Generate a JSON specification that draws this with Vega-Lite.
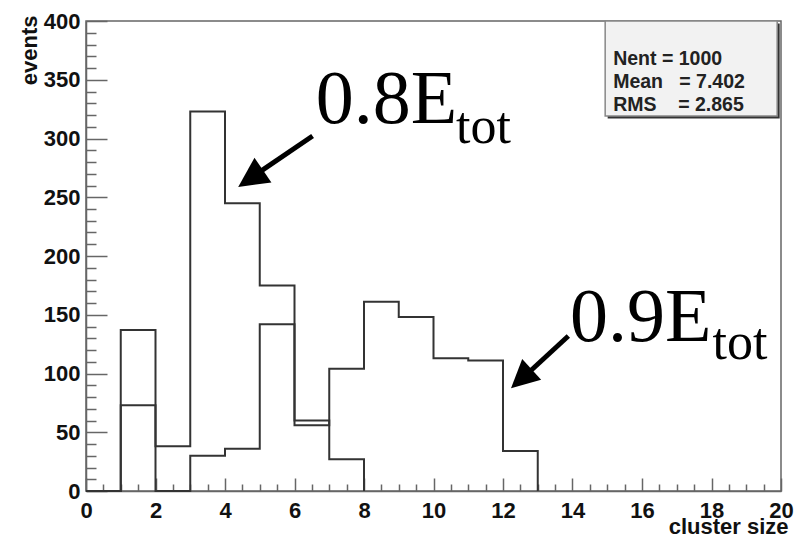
{
  "$schema": "https://vega.github.io/schema/vega-lite/v6.json",
  "width": 695,
  "height": 470,
  "autosize": {"type": "none"},
  "padding": {"left": 86, "top": 21, "right": 21, "bottom": 46},
  "background": "white",
  "config": {
    "view": {"stroke": "#666", "strokeWidth": 1.5},
    "axis": {
      "domainColor": "#666", "domainWidth": 1.5,
      "tickColor": "#666", "tickWidth": 1.5,
      "grid": false,
      "labelFont": "Liberation Sans", "labelFontWeight": "bold", "labelFontSize": 22, "labelColor": "#111",
      "titleFont": "Liberation Sans", "titleFontWeight": "bold", "titleFontSize": 22, "titleColor": "#111",
      "labelFlush": false, "labelOverlap": false
    }
  },
  "layer": [
    {
      "data": {"values": [
        {"series": "0.8Etot", "bin": 0, "count": 0},
        {"series": "0.8Etot", "bin": 1, "count": 137},
        {"series": "0.8Etot", "bin": 2, "count": 38},
        {"series": "0.8Etot", "bin": 3, "count": 323},
        {"series": "0.8Etot", "bin": 4, "count": 245},
        {"series": "0.8Etot", "bin": 5, "count": 175},
        {"series": "0.8Etot", "bin": 6, "count": 60},
        {"series": "0.8Etot", "bin": 7, "count": 27},
        {"series": "0.8Etot", "bin": 8, "count": 0},
        {"series": "0.9Etot", "bin": 0, "count": 0},
        {"series": "0.9Etot", "bin": 1, "count": 73},
        {"series": "0.9Etot", "bin": 2, "count": 0},
        {"series": "0.9Etot", "bin": 3, "count": 30},
        {"series": "0.9Etot", "bin": 4, "count": 36},
        {"series": "0.9Etot", "bin": 5, "count": 142},
        {"series": "0.9Etot", "bin": 6, "count": 56},
        {"series": "0.9Etot", "bin": 7, "count": 104},
        {"series": "0.9Etot", "bin": 8, "count": 161},
        {"series": "0.9Etot", "bin": 9, "count": 148},
        {"series": "0.9Etot", "bin": 10, "count": 113},
        {"series": "0.9Etot", "bin": 11, "count": 111},
        {"series": "0.9Etot", "bin": 12, "count": 34},
        {"series": "0.9Etot", "bin": 13, "count": 0}
      ]},
      "mark": {"type": "line", "interpolate": "step-after", "color": "#333", "strokeWidth": 2},
      "encoding": {
        "x": {
          "field": "bin", "type": "quantitative",
          "scale": {"domain": [0, 20], "nice": false, "zero": false},
          "axis": {
            "title": "cluster size",
            "tickCount": 40,
            "labelExpr": "datum.value % 2 === 0 ? format(datum.value, 'd') : ''",
            "tickSize": -13,
            "tickDash": {"condition": {"test": "datum.value % 2 !== 0", "value": [7, 100]}, "value": []},
            "labelPadding": 22,
            "titleX": 702, "titleY": 42.5, "titleAlign": "right", "titleBaseline": "alphabetic"
          }
        },
        "y": {
          "field": "count", "type": "quantitative",
          "scale": {"domain": [0, 400], "nice": false},
          "axis": {
            "title": "events",
            "tickCount": 40,
            "labelExpr": "datum.value % 50 === 0 ? datum.label : ''",
            "tickSize": -21,
            "tickDash": {"condition": {"test": "datum.value % 50 !== 0", "value": [10, 100]}, "value": []},
            "labelPadding": 27,
            "titleAngle": 270, "titleX": -50, "titleY": -6, "titleAlign": "right", "titleBaseline": "alphabetic"
          }
        },
        "detail": {"field": "series"}
      }
    },
    {
      "data": {"values": [{}]},
      "mark": {"type": "rect", "fill": "#333", "xOffset": 2.5, "x2Offset": 2.5, "yOffset": 2.5, "y2Offset": 2.5},
      "encoding": {
        "x": {"datum": 14.94, "type": "quantitative"},
        "x2": {"datum": 19.89},
        "y": {"datum": 400, "type": "quantitative"},
        "y2": {"datum": 319.1}
      }
    },
    {
      "data": {"values": [{}]},
      "mark": {"type": "rect", "fill": "#f2f2f2", "stroke": "#888", "strokeWidth": 1.5},
      "encoding": {
        "x": {"datum": 14.94, "type": "quantitative"},
        "x2": {"datum": 19.89},
        "y": {"datum": 400, "type": "quantitative"},
        "y2": {"datum": 319.1}
      }
    },
    {
      "data": {"values": [{}]},
      "mark": {"type": "text", "text": ["Nent = 1000", "Mean\u00a0\u00a0\u00a0= 7.402", "RMS\u00a0\u00a0\u00a0\u00a0= 2.865"], "align": "left", "baseline": "top", "lineHeight": 23, "font": "Liberation Sans", "fontWeight": "bold", "fontSize": 19.5, "color": "#222"},
      "encoding": {
        "x": {"datum": 15.17, "type": "quantitative"},
        "y": {"datum": 375.7, "type": "quantitative"}
      }
    },
    {
      "data": {"values": [{}]},
      "mark": {"type": "rule", "color": "black", "strokeWidth": 5},
      "encoding": {
        "x": {"datum": 6.52, "type": "quantitative"},
        "y": {"datum": 302.1, "type": "quantitative"},
        "x2": {"datum": 4.8},
        "y2": {"datum": 267.5}
      }
    },
    {
      "data": {"values": [{}]},
      "mark": {"type": "point", "shape": "M0,0L1,2L-1,2Z", "filled": true, "color": "black", "opacity": 1, "size": 900, "angle": 235.6, "strokeWidth": 0},
      "encoding": {
        "x": {"datum": 4.38, "type": "quantitative"},
        "y": {"datum": 258.7, "type": "quantitative"}
      }
    },
    {
      "data": {"values": [{}]},
      "mark": {"type": "rule", "color": "black", "strokeWidth": 5},
      "encoding": {
        "x": {"datum": 13.88, "type": "quantitative"},
        "y": {"datum": 131.9, "type": "quantitative"},
        "x2": {"datum": 12.6},
        "y2": {"datum": 97}
      }
    },
    {
      "data": {"values": [{}]},
      "mark": {"type": "point", "shape": "M0,0L1,2L-1,2Z", "filled": true, "color": "black", "opacity": 1, "size": 784, "angle": 227.6, "strokeWidth": 0},
      "encoding": {
        "x": {"datum": 12.23, "type": "quantitative"},
        "y": {"datum": 87.4, "type": "quantitative"}
      }
    },
    {
      "data": {"values": [{}]},
      "mark": {"type": "text", "text": "0.8E", "align": "left", "baseline": "alphabetic", "font": "Liberation Serif", "fontSize": 76, "color": "black"},
      "encoding": {
        "x": {"datum": 6.61, "type": "quantitative"},
        "y": {"datum": 312.8, "type": "quantitative"}
      }
    },
    {
      "data": {"values": [{}]},
      "mark": {"type": "text", "text": "tot", "align": "left", "baseline": "alphabetic", "font": "Liberation Serif", "fontSize": 52, "color": "black"},
      "encoding": {
        "x": {"datum": 10.65, "type": "quantitative"},
        "y": {"datum": 296.4, "type": "quantitative"}
      }
    },
    {
      "data": {"values": [{}]},
      "mark": {"type": "text", "text": "0.9E", "align": "left", "baseline": "alphabetic", "font": "Liberation Serif", "fontSize": 76, "color": "black"},
      "encoding": {
        "x": {"datum": 13.93, "type": "quantitative"},
        "y": {"datum": 127.7, "type": "quantitative"}
      }
    },
    {
      "data": {"values": [{}]},
      "mark": {"type": "text", "text": "tot", "align": "left", "baseline": "alphabetic", "font": "Liberation Serif", "fontSize": 52, "color": "black"},
      "encoding": {
        "x": {"datum": 18.03, "type": "quantitative"},
        "y": {"datum": 112.3, "type": "quantitative"}
      }
    }
  ]
}
